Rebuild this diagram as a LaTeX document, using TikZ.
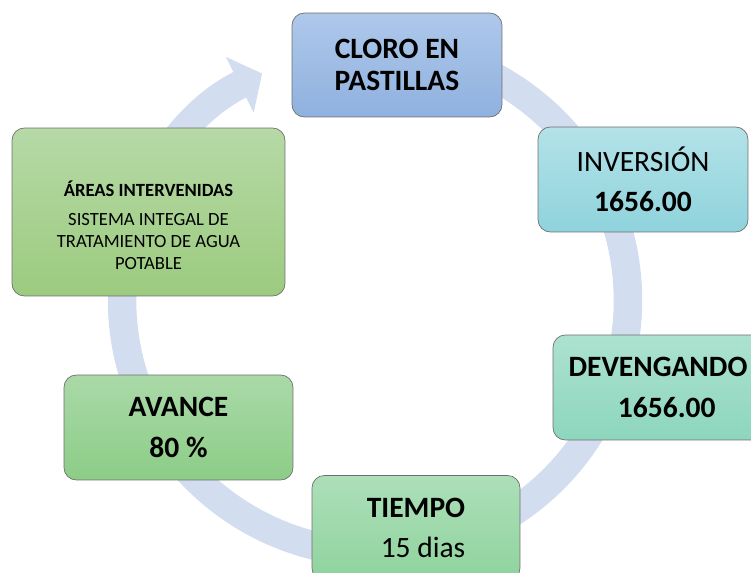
\documentclass[tikz,border=0pt]{standalone}
\usepackage{fontspec}
\setmainfont{Carlito}
\usetikzlibrary{positioning, arrows.meta}

\definecolor{ringblue}{HTML}{D2DDEF}
\definecolor{bordergray}{HTML}{6E6E6E}
\definecolor{clorotop}{HTML}{AEC8EA}
\definecolor{clorobot}{HTML}{8FB1DF}
\definecolor{invtop}{HTML}{B3E2E8}
\definecolor{invbot}{HTML}{8FD3DC}
\definecolor{devtop}{HTML}{ACE2CF}
\definecolor{devbot}{HTML}{8DD6BD}
\definecolor{tiemtop}{HTML}{ADDFB9}
\definecolor{tiembot}{HTML}{8FD39D}
\definecolor{avtop}{HTML}{AAD9A8}
\definecolor{avbot}{HTML}{8CCD87}
\definecolor{artop}{HTML}{B6D9A6}
\definecolor{arbot}{HTML}{9CCB7F}

\begin{document}
\begin{tikzpicture}[
        x=0.02cm, y=0.02cm,
        box/.style={rectangle, draw=bordergray, thin, align=center, rounded corners=7pt, inner sep=2pt},
        big/.style={font=\fontsize{16.8}{19}\selectfont},
        ring/.style={draw=ringblue, line width=0.57cm, -{Triangle[width=1.22cm, length=0.5cm]}}
    ]
        \clip (0,0) rectangle (751,572);

        % Ring
        \coordinate (c) at (375,272);
        \draw [ring] (c) ++(97:253) arc[start angle=97, end angle=-243.5, radius=5.06cm];

        % Nodes
        \node [box, big, minimum width=4.2cm, minimum height=2.08cm, top color=clorotop, bottom color=clorobot] (cloro) at (397,507) {\textbf{CLORO EN}\\[-1pt]\textbf{PASTILLAS}};
        \node [box, big, minimum width=4.2cm, minimum height=2.1cm, top color=invtop, bottom color=invbot] (inv) at (643,392.5) {INVERSIÓN\\[4pt]\textbf{1656.00}};
        \node [box, big, minimum width=4.2cm, minimum height=2.1cm, top color=devtop, bottom color=devbot] (dev) at (658,184.5) {\textbf{DEVENGANDO}\\[4pt]\hspace*{10pt}\textbf{1656.00}};
        \node [box, big, minimum width=4.16cm, minimum height=2.1cm, top color=tiemtop, bottom color=tiembot] (tiempo) at (416,44) {\textbf{TIEMPO}\\[4pt]\hspace*{8pt}15 dias};
        \node [box, big, minimum width=4.58cm, minimum height=2.1cm, top color=avtop, bottom color=avbot] (avance) at (178.5,144.5) {\textbf{AVANCE}\\[4pt]\textbf{80 \%}};
        \node [box, minimum width=5.46cm, minimum height=3.36cm, top color=artop, bottom color=arbot,
               font=\fontsize{10.6}{12.5}\selectfont] (areas) at (148.5,360) {\rule{0pt}{24pt}\textbf{ÁREAS INTERVENIDAS}\\[4pt]SISTEMA INTEGAL DE\\TRATAMIENTO DE AGUA\\POTABLE};
    \end{tikzpicture}
\end{document}
